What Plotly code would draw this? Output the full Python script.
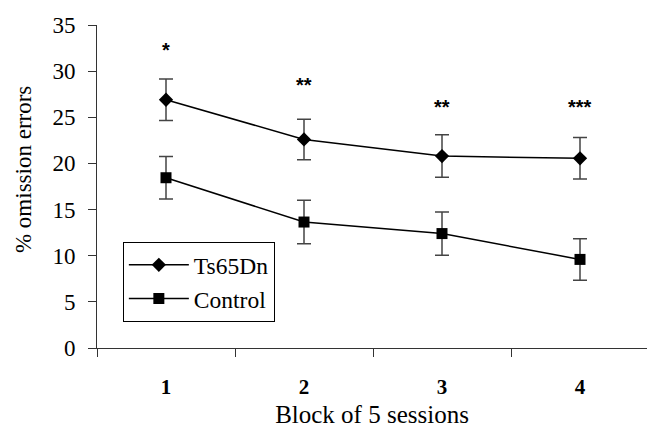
import plotly.graph_objects as go

blocks = [1, 2, 3, 4]
block_labels = ["1", "2", "3", "4"]
ts65dn = [26.9, 22.6, 20.8, 20.55]
ts65dn_err = [2.25, 2.2, 2.3, 2.25]
control = [18.45, 13.65, 12.4, 9.6]
control_err = [2.3, 2.35, 2.35, 2.25]
signif = ["*", "**", "**", "***"]
signif_y = [32.3, 28.5, 26.1, 26.1]

fig = go.Figure()
fig.add_trace(go.Scatter(
    x=blocks, y=ts65dn, name="Ts65Dn", mode="lines+markers",
    line=dict(color="black", width=1.5),
    marker=dict(symbol="diamond", size=11, color="black"),
    error_y=dict(type="data", array=ts65dn_err, color="#444", thickness=1.5, width=7),
))
fig.add_trace(go.Scatter(
    x=blocks, y=control, name="Control", mode="lines+markers",
    line=dict(color="black", width=1.5),
    marker=dict(symbol="square", size=11, color="black"),
    error_y=dict(type="data", array=control_err, color="#444", thickness=1.5, width=7),
))

for xv, s, yv in zip(blocks, signif, signif_y):
    fig.add_annotation(x=xv, y=yv, text="<b>" + s + "</b>", showarrow=False,
                       font=dict(family="Liberation Sans", size=20, color="black"))

font_family = "Liberation Serif"
fig.add_annotation(xref="paper", yref="paper", x=-0.1345, y=0.551,
                   text="% omission errors", textangle=-90, showarrow=False,
                   xanchor="center", yanchor="middle",
                   font=dict(family=font_family, size=23, color="black"))

fig.update_layout(
    width=647, height=428,
    margin=dict(l=97, r=0, t=25, b=80),
    paper_bgcolor="white", plot_bgcolor="white",
    font=dict(family=font_family, size=23, color="black"),
    showlegend=True,
    legend=dict(x=0.047, y=0.328, xanchor="left", yanchor="top",
                bordercolor="black", borderwidth=1, bgcolor="white",
                font=dict(family=font_family, size=23.5, color="black"),
                itemwidth=60),
    xaxis=dict(
        range=[0.5, 0.5 + 550 / 138], tickvals=blocks,
        ticktext=["<b>" + t + "</b>" for t in block_labels],
        ticks="", showgrid=False, zeroline=False,
        showline=True, linecolor="#333", linewidth=1,
        tickfont=dict(family=font_family, size=21),
        ticklabelstandoff=20,
        minor=dict(tickvals=[0.5, 1.5, 2.5, 3.5], ticks="outside", ticklen=8,
                   tickcolor="#333", showgrid=False),
        title=dict(text="Block of 5 sessions", standoff=10,
                   font=dict(family=font_family, size=25)),
    ),
    yaxis=dict(
        range=[0, 35], tickvals=[0, 5, 10, 15, 20, 25, 30, 35],
        ticks="outside", ticklen=8, tickcolor="#333",
        showgrid=False, zeroline=False,
        showline=True, linecolor="#333", linewidth=1,
        tickfont=dict(family=font_family, size=23),
        ticklabelstandoff=8,
    ),
)
fig.write_html("out.html", config={"displayModeBar": False},
               post_script="document.body.style.margin='0';")
